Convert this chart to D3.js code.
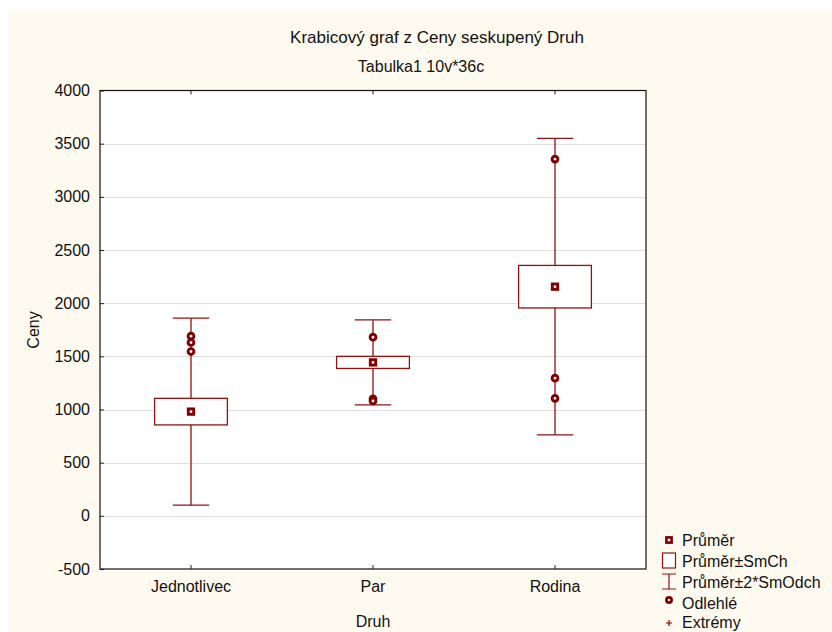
<!DOCTYPE html>
<html>
<head>
<meta charset="utf-8">
<script src="https://cdn.jsdelivr.net/npm/d3@7"></script>
<style>
  html, body { margin: 0; padding: 0; background: #ffffff; }
  svg { display: block; }
  text { font-family: "Liberation Sans", Arial, sans-serif; fill: #111; }
</style>
</head>
<body>
<svg id="chart" width="832" height="632"></svg>
<script>
// Groups (Druh) and their price statistics (Ceny)
const categories = ["Jednotlivec", "Par", "Rodina"];
const means = [980, 1443, 2155];          // Průměr
const stdErrors = [125, 57, 200];         // SmCh
const stdDevs = [440, 200, 697];          // SmOdch (whiskers at ±2*SmOdch)
const outliers = [                        // Odlehlé
  [1690, 1630, 1545],
  [1680, 1100, 1080],
  [3355, 1295, 1105]
];
const yTicks = [-500, 0, 500, 1000, 1500, 2000, 2500, 3000, 3500, 4000];

const title = "Krabicový graf z Ceny seskupený Druh";
const subtitle = "Tabulka1 10v*36c";
const xTitle = "Druh";
const yTitle = "Ceny";
const legendLabels = ["Průměr", "Průměr±SmCh", "Průměr±2*SmOdch", "Odlehlé", "Extrémy"];

const dark = "#800000";
const line = "#8c1414";

const svg = d3.select("#chart");

// page background panel
svg.append("rect")
  .attr("x", 9).attr("y", 10).attr("width", 823).attr("height", 622)
  .attr("fill", "#fffaef");

const plot = { left: 100, right: 646, top: 90.5, bottom: 569 };

const x = d3.scaleBand().domain(categories).range([plot.left, plot.right]).padding(0);
const y = d3.scaleLinear().domain([-500, 4000]).range([plot.bottom, plot.top]);
const cx = c => x(c) + x.bandwidth() / 2;

// plot area
svg.append("rect")
  .attr("x", plot.left).attr("y", plot.top)
  .attr("width", plot.right - plot.left).attr("height", plot.bottom - plot.top)
  .attr("fill", "#ffffff");

// horizontal gridlines
svg.append("g").selectAll("line")
  .data(yTicks.filter(t => t > -500 && t < 4000))
  .join("line")
  .attr("x1", plot.left).attr("x2", plot.right)
  .attr("y1", d => Math.round(y(d)) + 0.5).attr("y2", d => Math.round(y(d)) + 0.5)
  .attr("stroke", "#dedede").attr("stroke-width", 1.2);

// axes with inward ticks
const axisStyle = g => {
  g.select(".domain").remove();
  g.selectAll(".tick line").attr("stroke", "#222");
  g.selectAll("text").attr("font-size", 16).attr("fill", "#111")
    .attr("font-family", "'Liberation Sans', Arial, sans-serif");
};

svg.append("g")
  .attr("transform", `translate(${plot.left},0)`)
  .call(d3.axisLeft(y).tickValues(yTicks).tickFormat(d => String(d)).tickSize(-4).tickPadding(10))
  .call(axisStyle);

svg.append("g")
  .attr("transform", `translate(0,${plot.bottom})`)
  .call(d3.axisBottom(x).tickSize(-4).tickPadding(12).offset(0.5))
  .call(axisStyle);

svg.append("g")
  .attr("transform", `translate(0,${plot.top})`)
  .call(d3.axisTop(x).tickSize(-4).tickFormat(() => ""))
  .call(axisStyle);

// frame
svg.append("rect")
  .attr("x", plot.left).attr("y", plot.top)
  .attr("width", plot.right - plot.left).attr("height", plot.bottom - plot.top)
  .attr("fill", "none").attr("stroke", "#111").attr("stroke-width", 1.2);

// box plots
const boxHalf = x.bandwidth() * 0.2;
const capHalf = x.bandwidth() * 0.1;

const groups = svg.append("g").selectAll("g")
  .data(categories.map((c, i) => ({
    c, mean: means[i], se: stdErrors[i], sd: stdDevs[i], out: outliers[i]
  })))
  .join("g");

groups.append("line")
  .attr("x1", d => cx(d.c)).attr("x2", d => cx(d.c))
  .attr("y1", d => y(d.mean + 2 * d.sd)).attr("y2", d => y(d.mean - 2 * d.sd))
  .attr("stroke", line).attr("stroke-width", 1.3);

groups.selectAll("line.cap")
  .data(d => [d.mean + 2 * d.sd, d.mean - 2 * d.sd].map(v => ({ c: d.c, v })))
  .join("line").attr("class", "cap")
  .attr("x1", d => cx(d.c) - capHalf).attr("x2", d => cx(d.c) + capHalf)
  .attr("y1", d => y(d.v)).attr("y2", d => y(d.v))
  .attr("stroke", line).attr("stroke-width", 1.3);

groups.append("rect")
  .attr("x", d => cx(d.c) - boxHalf)
  .attr("y", d => y(d.mean + d.se))
  .attr("width", boxHalf * 2)
  .attr("height", d => y(d.mean - d.se) - y(d.mean + d.se))
  .attr("fill", "#ffffff").attr("stroke", line).attr("stroke-width", 1.3);

groups.selectAll("circle.out")
  .data(d => d.out.map(v => ({ c: d.c, v })))
  .join("circle").attr("class", "out")
  .attr("cx", d => cx(d.c)).attr("cy", d => y(d.v))
  .attr("r", 2.9).attr("fill", "#ffffff").attr("stroke", dark).attr("stroke-width", 2.9);

groups.append("rect")
  .attr("x", d => cx(d.c) - 2.7).attr("y", d => y(d.mean) - 2.7)
  .attr("width", 5.4).attr("height", 5.4)
  .attr("fill", "#ffffff").attr("stroke", dark).attr("stroke-width", 2.9);

// titles
svg.append("text").attr("x", 437).attr("y", 43).attr("text-anchor", "middle")
  .attr("font-size", 17).text(title);
svg.append("text").attr("x", 421).attr("y", 72).attr("text-anchor", "middle")
  .attr("font-size", 16).text(subtitle);
svg.append("text").attr("x", (plot.left + plot.right) / 2).attr("y", 627)
  .attr("text-anchor", "middle").attr("font-size", 16).text(xTitle);
svg.append("text").attr("transform", "translate(39,330) rotate(-90)")
  .attr("text-anchor", "middle").attr("font-size", 16).text(yTitle);

// legend
const legend = svg.append("g");
const lx = 669;
const rows = [540, 561, 582, 603, 622];
legend.append("rect").attr("x", lx - 2.6).attr("y", rows[0] - 2.6).attr("width", 5.2).attr("height", 5.2)
  .attr("fill", "#fff").attr("stroke", dark).attr("stroke-width", 2.6);
legend.append("rect").attr("x", lx - 6.5).attr("y", rows[1] - 8).attr("width", 13).attr("height", 15)
  .attr("fill", "#fff").attr("stroke", line).attr("stroke-width", 1.2);
legend.append("path")
  .attr("d", `M${lx - 7},${rows[2] - 8}H${lx + 7}M${lx},${rows[2] - 8}V${rows[2] + 7}M${lx - 7},${rows[2] + 7}H${lx + 7}`)
  .attr("fill", "none").attr("stroke", line).attr("stroke-width", 1.2);
legend.append("circle").attr("cx", lx).attr("cy", rows[3] - 3).attr("r", 2.6)
  .attr("fill", "#fff").attr("stroke", dark).attr("stroke-width", 2.7);
legend.append("path")
  .attr("d", `M${lx - 3},${rows[4] + 1}H${lx + 3}M${lx},${rows[4] - 2}V${rows[4] + 4}`)
  .attr("stroke", dark).attr("stroke-width", 1.2);
legend.selectAll("text.leg")
  .data(legendLabels)
  .join("text").attr("class", "leg")
  .attr("x", 682).attr("y", (d, i) => rows[i] + 6)
  .attr("font-size", 16).text(d => d);
</script>
</body>
</html>
